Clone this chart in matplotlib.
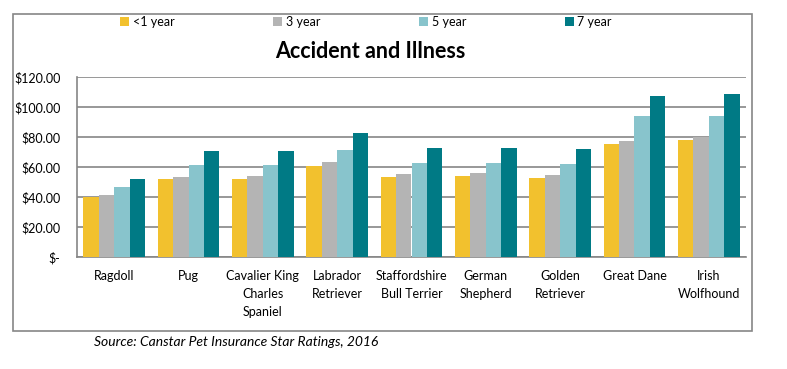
import matplotlib.pyplot as plt
from matplotlib.patches import Rectangle
import numpy as np

plt.rcParams['font.family'] = ['Lato', 'DejaVu Sans']

# data
breeds = ["Ragdoll", "Pug", "Cavalier King\nCharles\nSpaniel", "Labrador\nRetriever",
          "Staffordshire\nBull Terrier", "German\nShepherd", "Golden\nRetriever",
          "Great Dane", "Irish\nWolfhound"]
series_names = ["<1 year", "3 year", "5 year", "7 year"]
under_1 = [40.0, 52.0, 52.0, 60.7, 53.3, 54.0, 52.7, 75.3, 78.0]
year_3 = [41.3, 53.3, 54.0, 63.3, 55.3, 56.0, 54.7, 77.3, 80.0]
year_5 = [46.7, 61.3, 61.3, 71.3, 62.7, 62.7, 62.0, 94.2, 94.2]
year_7 = [52.0, 70.7, 70.7, 82.7, 72.7, 72.7, 72.0, 107.5, 108.7]
yticks = [0, 20, 40, 60, 80, 100, 120]
ytick_labels = ["$-", "$20.00", "$40.00", "$60.00", "$80.00", "$100.00", "$120.00"]
colors = ["#F2C12E", "#B4B4B4", "#88C4CC", "#007A85"]

fig = plt.figure(figsize=(7.87, 3.69), dpi=100)
ax = fig.add_axes([77 / 787, 1 - 257 / 369, (746 - 77) / 787, 180 / 369])

x = np.arange(len(breeds))
width = 0.2075
all_series = [under_1, year_3, year_5, year_7]
for i, vals in enumerate(all_series):
    ax.bar(x + (i - 1.5) * width, vals, width, color=colors[i], label=series_names[i], zorder=3)

ax.set_xlim(-0.5, len(breeds) - 0.5)
ax.set_ylim(0, 120)
ax.set_yticks(yticks)
ax.set_yticklabels(ytick_labels, fontsize=9)
ax.set_xticks(x)
ax.set_xticklabels(breeds, fontsize=9, linespacing=1.6, va="top")
ax.tick_params(length=0, pad=12, axis="y")
ax.tick_params(length=0, pad=9, axis="x")
ax.grid(axis="y", color="#868686", linewidth=1.2, zorder=0)
for s in ["top", "right"]:
    ax.spines[s].set_visible(False)
ax.spines["left"].set_color("#868686")
ax.spines["bottom"].set_color("#868686")
ax.spines["left"].set_linewidth(1.2)
ax.spines["bottom"].set_linewidth(1.2)

# outer chart frame
fig.patches.append(Rectangle((13 / 787, 1 - 331 / 369), (752 - 13) / 787, (331 - 14) / 369,
                             transform=fig.transFigure, fill=False, edgecolor="#868686",
                             linewidth=1.2))

fig.text(370 / 787, 1 - 51 / 369, "Accident and Illness", ha="center", va="center",
         fontsize=15.5, fontweight="bold")

fig.legend(loc="center", bbox_to_anchor=(366 / 787, 1 - 22 / 369), ncol=4, frameon=False,
           fontsize=9, handlelength=0.7, handleheight=0.7, handletextpad=0.3,
           columnspacing=7.9)

fig.text(94 / 787, 1 - 342 / 369, "Source: Canstar Pet Insurance Star Ratings, 2016",
         ha="left", va="center", fontsize=10, style="italic")

fig.savefig("out.png", dpi=100)
